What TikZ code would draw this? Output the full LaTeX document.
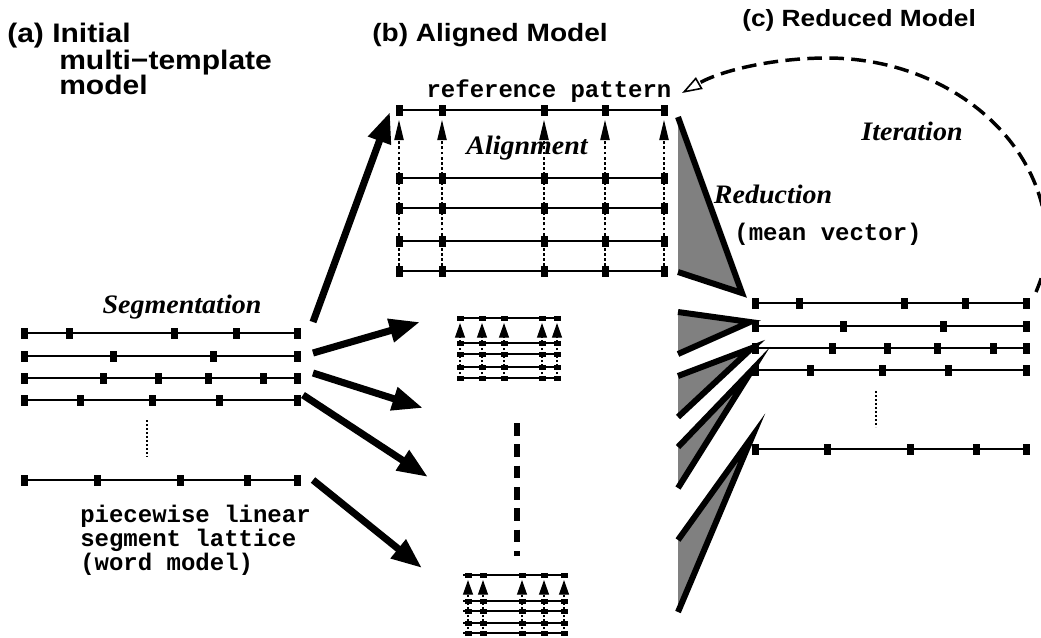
\documentclass[tikz,border=0pt]{standalone}
\usepackage{fontspec}
\setmainfont{Liberation Serif}
\newfontfamily\hdrfont{Liberation Sans}[FakeStretch=1.12]
\newfontfamily\itlfont{Liberation Serif}[FakeStretch=1.05]
\newfontfamily\codefont{Liberation Mono}
\usetikzlibrary{arrows.meta}
% big lattice: #1 name, #2 y, #3 x0, #4 x1, #5 interior xs
\newcommand\biglat[5]{%
  \coordinate (#1s) at (#3,#2); \coordinate (#1e) at (#4,#2);
  \draw[latline] (#1s) -- (#1e);
  \foreach \xx in {#3,#5,#4} \fill (\xx-3.5,#2-5.5) rectangle (\xx+3.5,#2+5.5);
}
% small lattice
\newcommand\smalllat[5]{%
  \coordinate (#1s) at (#3,#2); \coordinate (#1e) at (#4,#2);
  \draw[smline] (#1s) -- (#1e);
  \foreach \xx in {#5} \fill (\xx-3.5,#2-2.5) rectangle (\xx+3.5,#2+2.5);
}
\begin{document}
\begin{tikzpicture}[x=0.75pt,y=-0.75pt,
  latline/.style={line width=1.7pt},
  smline/.style={line width=2pt},
  bigarrow/.style={line width=5.3pt,-{Triangle[length=23pt,width=17pt]}},
  alignarrow/.style={line width=0.8pt,dash pattern=on 2.2pt off 1.6pt,-{Triangle[length=15pt,width=7pt]}},
  smallarrow/.style={line width=0.9pt,dash pattern=on 1.5pt off 1.5pt,-{Triangle[length=11pt,width=7.5pt]}},
  wedgeline/.style={line width=4.5pt,line join=miter,miter limit=40},
  vdots/.style={line width=2pt,dash pattern=on 1.8pt off 1.2pt},
  hdr/.style={font=\hdrfont\bfseries, inner sep=0, anchor=base west},
  itl/.style={font=\itlfont\bfseries\itshape\fontsize{20}{24}\selectfont, inner sep=0, anchor=base},
  code/.style={font=\codefont\bfseries\fontsize{18}{22}\selectfont, inner sep=0},
]
\useasboundingbox (0,0) rectangle (1041,637);
\clip (0,0) rectangle (1041,637);

% headers
\node[hdr,font=\hdrfont\bfseries\fontsize{20.1}{24}\selectfont] (ha1) at (7,42) {(a) Initial};
\node[hdr,font=\hdrfont\bfseries\fontsize{20.1}{24}\selectfont] (ha2) at (59,69) {multi−template};
\node[hdr,font=\hdrfont\bfseries\fontsize{20.1}{24}\selectfont] (ha3) at (59,94) {model};
\node[hdr,font=\hdrfont\bfseries\fontsize{18.8}{23}\selectfont] (hb) at (372,41) {(b) Aligned Model};
\node[hdr,font=\hdrfont\bfseries\fontsize{17.6}{21}\selectfont] (hc) at (742,26) {(c) Reduced Model};

% (a) initial lattices
\biglat{a1}{333}{24}{297}{69,174,236}
\biglat{a2}{356}{24}{297}{113,213}
\biglat{a3}{378}{24}{297}{103,158,208,263}
\biglat{a4}{400}{24}{297}{80,152,219}
\biglat{a5}{480}{24}{297}{97,180,247}
\coordinate (adt) at (147,420); \coordinate (adb) at (147,457);
\draw[vdots] (adt) -- (adb);
\node[itl] (seg) at (182,313) {Segmentation};
\node[code,anchor=base west] (pl1) at (80,522) {piecewise linear};
\node[code,anchor=base west] (pl2) at (80,546) {segment lattice};
\node[code,anchor=base west] (pl3) at (80,570) {(word model)};

% (b) aligned model
\biglat{r0}{110}{399}{664}{442,544,605}
\biglat{b1}{178}{399}{664}{442,544,605}
\biglat{b2}{208}{399}{664}{442,544,605}
\biglat{b3}{241}{399}{664}{442,544,605}
\biglat{b4}{271}{399}{664}{442,544,605}
\foreach \xx [count=\i] in {399,442,544,605,664}{
  \coordinate (al\i b) at (\xx,271); \coordinate (al\i t) at (\xx,120);
  \draw[alignarrow] (al\i b) -- (al\i t);
}
\node[code,anchor=base] (refp) at (549,97) {reference pattern};
\node[itl] (algn) at (527,154) {Alignment};

% small block 1
\smalllat{s0}{318}{457}{560}{460,482,504,542,557}
\smalllat{s1}{343}{457}{560}{460,482,504,542,557}
\smalllat{s2}{354}{457}{560}{460,482,504,542,557}
\smalllat{s3}{367}{457}{560}{460,482,504,542,557}
\smalllat{s4}{378}{457}{560}{460,482,504,542,557}
\foreach \xx [count=\i] in {460,482,504,542,557}{
  \coordinate (sa\i b) at (\xx,378); \coordinate (sa\i t) at (\xx,323);
  \draw[smallarrow] (sa\i b) -- (sa\i t);
}
% small block 2
\smalllat{t0}{575}{463}{567}{468,483,522,544,564}
\smalllat{t1}{601}{463}{567}{468,483,522,544,564}
\smalllat{t2}{611}{463}{567}{468,483,522,544,564}
\smalllat{t3}{623}{463}{567}{468,483,522,544,564}
\smalllat{t4}{633}{463}{567}{468,483,522,544,564}
\foreach \xx [count=\i] in {468,483,522,544,564}{
  \coordinate (ta\i b) at (\xx,633); \coordinate (ta\i t) at (\xx,580);
  \draw[smallarrow] (ta\i b) -- (ta\i t);
}
% thick dashed "more"
\coordinate (md1) at (517,423); \coordinate (md2) at (517,556);
\draw[line width=4.5pt,dash pattern=on 9.5pt off 6.5pt] (md1) -- (md2);

% big arrows
\coordinate (g1s) at (313,322); \coordinate (g1t) at (390,112);
\coordinate (g2s) at (313,353); \coordinate (g2t) at (420,322);
\coordinate (g3s) at (313,373); \coordinate (g3t) at (423,408);
\coordinate (g4s) at (303,395); \coordinate (g4t) at (428,477);
\coordinate (g5s) at (313,480); \coordinate (g5t) at (422,568);
\foreach \i in {1,...,5} \draw[bigarrow] (g\i s) -- (g\i t);

% wedges
\foreach \ta/\ap/\bb in {{678,117}/{742,293}/{678,272},{678,312}/{750,322}/{678,354},{678,376}/{752,348}/{678,417},{678,447}/{752,370}/{678,488},{678,540}/{752,437}/{678,612}}{
  \fill[gray] (\ta) -- (\ap) -- (\bb) -- cycle;
  \draw[wedgeline] (\ta) -- (\ap) -- (\bb);
}
\node[itl] (red) at (773,203) {Reduction};
\node[code,anchor=base] (mv) at (828,240) {(mean vector)};

% (c) reduced model
\biglat{c1}{303}{755}{1026}{799,904,965}
\biglat{c2}{326}{755}{1026}{843,943}
\biglat{c3}{348}{755}{1026}{832,887,937,993}
\biglat{c4}{370}{755}{1026}{810,882,948}
\biglat{c5}{449}{755}{1026}{827,910,976}
\coordinate (cdt) at (876,391); \coordinate (cdb) at (876,427);
\draw[vdots] (cdt) -- (cdb);

% iteration
\coordinate (itS) at (1036,292); \coordinate (itE) at (682,93);
\draw[line width=2.6pt,dash pattern=on 11pt off 5.5pt,-{Triangle[open,length=15pt,width=10pt,line width=1.2pt]}]
  (itS) .. controls (1043,275) and (1047,262) .. (1047,245)
  .. controls (1047,140) and (947,58) .. (827,58)
  .. controls (775,58) and (722,70) .. (itE);
\node[itl] (iter) at (912,140) {Iteration};
\end{tikzpicture}
\end{document}
